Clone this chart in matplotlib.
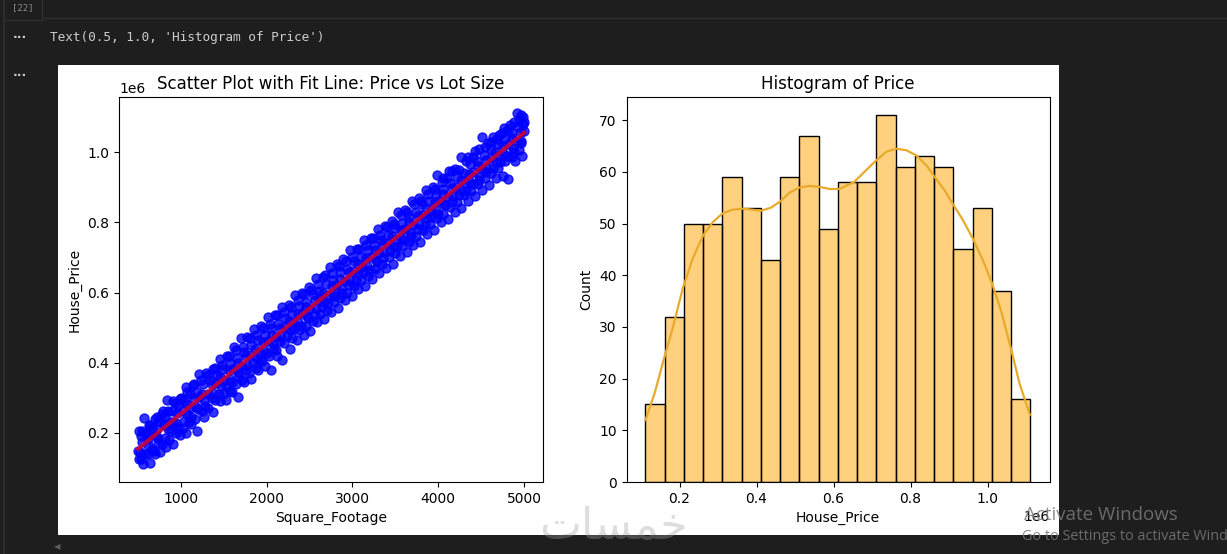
from matplotlib import pyplot as plt
from matplotlib.patches import Rectangle
from matplotlib.lines import Line2D
import numpy as np

W, H = 1227, 554

# scatter points in bands across the cloud
sqft_a = [510,568,640,715,790,837,905,985,1060,1135,1210,1295,1375,1455,1535,1615,1695,1775,1855,1935,2015,2095,2175,2255,2335,2415,2495,2575,2655,2735,2815,2895,2975,3055,3135,3215,3295,3375,3455,3535,3615,3695,3775,3855,3935,3985,4060,4130,4190,4267,4350,4430,4510,4580,4640,4710,4770,4840,4918,4960,4990,5000]
price_a = [.206,.243,.222,.246,.262,.294,.290,.298,.330,.338,.368,.372,.382,.412,.418,.445,.470,.472,.495,.505,.530,.535,.560,.565,.592,.600,.615,.642,.645,.672,.680,.695,.720,.725,.750,.755,.780,.790,.805,.830,.835,.862,.870,.892,.900,.935,.925,.945,.952,.986,.985,1.002,1.043,1.025,1.043,1.050,1.068,1.078,1.112,1.105,1.100,1.085]
sqft_b = [530,590,665,740,815,890,960,1035,1110,1185,1260,1335,1415,1495,1575,1655,1735,1815,1895,1975,2055,2135,2215,2295,2375,2455,2535,2615,2695,2775,2855,2935,3015,3095,3175,3255,3335,3415,3495,3575,3655,3735,3815,3895,3975,4055,4135,4215,4295,4375,4455,4535,4615,4695,4775,4855,4935,4985]
price_b = [.190,.200,.215,.235,.245,.262,.280,.290,.310,.318,.340,.350,.365,.382,.400,.415,.430,.450,.465,.478,.498,.510,.528,.540,.562,.572,.595,.605,.625,.635,.658,.668,.690,.700,.720,.735,.750,.765,.785,.798,.815,.830,.852,.860,.880,.895,.912,.928,.940,.965,.975,.992,1.010,1.022,1.040,1.055,1.075,1.080]
sqft_c = [500,610,710,810,910,1010,1110,1210,1310,1410,1510,1610,1710,1810,1910,2010,2110,2210,2310,2410,2510,2610,2710,2810,2910,3010,3110,3210,3310,3410,3510,3610,3710,3810,3910,4010,4110,4210,4310,4410,4510,4610,4710,4810,4910,5000]
price_c = [.150,.182,.192,.222,.232,.262,.272,.302,.312,.342,.352,.382,.392,.422,.432,.462,.472,.502,.512,.542,.552,.582,.592,.622,.632,.662,.672,.702,.712,.742,.752,.782,.792,.822,.832,.862,.872,.902,.912,.942,.952,.982,.992,1.022,1.032,1.060]
sqft_d = [515,585,660,735,810,885,965,1040,1120,1200,1280,1360,1440,1520,1600,1680,1760,1840,1920,2000,2080,2160,2240,2320,2400,2480,2560,2640,2720,2800,2880,2960,3040,3120,3200,3280,3360,3440,3520,3600,3680,3760,3840,3920,4000,4080,4160,4240,4320,4400,4480,4560,4640,4720,4800,4880,4960]
price_d = [.125,.140,.155,.172,.185,.205,.215,.235,.245,.268,.278,.300,.312,.335,.345,.365,.378,.398,.410,.428,.442,.462,.475,.495,.505,.528,.538,.558,.570,.590,.600,.622,.635,.655,.665,.688,.698,.718,.730,.750,.762,.782,.792,.815,.825,.848,.858,.878,.890,.910,.922,.942,.955,.972,.988,1.000,1.025]
sqft_e = [557,640,700,755,830,905,985,1060,1120,1187,1270,1373,1450,1530,1600,1665,1740,1820,1900,1980,2050,2120,2180,2272,2350,2430,2510,2590,2670,2750,2830,2910,2990,3070,3150,3230,3310,3390,3470,3550,3630,3710,3790,3870,3950,4030,4110,4190,4270,4350,4430,4510,4590,4670,4750,4815,4900,4975]
price_e = [.112,.115,.140,.146,.160,.170,.195,.200,.225,.206,.245,.260,.290,.295,.318,.303,.345,.355,.380,.390,.380,.420,.408,.440,.465,.480,.490,.515,.525,.545,.555,.580,.590,.610,.620,.640,.655,.670,.680,.705,.715,.735,.745,.768,.778,.800,.810,.830,.840,.862,.875,.892,.905,.925,.932,.924,.975,.990]
sqft_f = [550,625,700,775,850,925,1000,1075,1150,1230,1320,1400,1480,1560,1640,1720,1800,1880,1960,2040,2120,2200,2280,2360,2440,2520,2600,2680,2760,2840,2920,3000,3080,3160,3240,3320,3400,3480,3560,3640,3720,3800,3880,3960,4040,4100,4160,4240,4320,4400,4470,4550,4620,4680,4740,4810,4880,4940]
price_f = [.205,.222,.240,.255,.262,.285,.300,.318,.340,.350,.365,.385,.395,.418,.435,.445,.470,.478,.500,.510,.535,.545,.560,.578,.595,.608,.625,.650,.655,.675,.690,.700,.725,.735,.755,.765,.788,.795,.820,.830,.852,.860,.880,.895,.915,.925,.945,.950,.975,.985,1.010,1.015,1.030,1.038,1.055,1.065,1.085,1.095]
sqft_g = [540,630,720,800,875,950,1075,1150,1240,1360,1460,1555,1660,1760,1860,1960,2060,2160,2260,2360,2460,2560,2660,2760,2860,2960,3060,3160,3260,3360,3460,3560,3660,3760,3860,3960,4060,4160,4260,4360,4460,4560,4660,4760,4860,4960]
price_g = [.175,.195,.210,.225,.232,.258,.282,.297,.312,.340,.360,.378,.400,.420,.438,.460,.480,.498,.520,.538,.560,.578,.600,.618,.640,.658,.680,.698,.720,.738,.760,.778,.800,.818,.840,.858,.880,.898,.920,.938,.960,.978,1.000,1.018,1.040,1.058]
sqft_h = [520,620,730,850,940,1070,1170,1270,1370,1470,1570,1670,1770,1870,1970,2070,2170,2270,2370,2470,2570,2670,2770,2870,2970,3070,3170,3270,3370,3470,3570,3670,3770,3870,3970,4070,4170,4270,4370,4470,4570,4670,4770,4870,4970]
price_h = [.145,.165,.185,.210,.228,.255,.275,.295,.315,.335,.355,.375,.393,.415,.435,.453,.475,.493,.515,.533,.555,.573,.595,.613,.635,.653,.675,.693,.715,.733,.755,.773,.795,.813,.835,.853,.875,.893,.915,.933,.955,.973,.995,1.013,1.033]
sqft_i = [535,610,680,775,860,945,1020,1095,1160,1240,1320,1400,1490,1570,1640,1710,1790,1870,1950,2030,2110,2200,2300,2380,2460,2540,2620,2700,2780,2860,2940,3020,3100,3180,3260,3340,3420,3500,3580,3660,3740,3820,3900,3980,4060,4140,4220,4300,4380,4460,4540,4620,4700,4780,4860,4940]
price_i = [.125,.140,.148,.170,.180,.200,.215,.230,.240,.262,.272,.295,.310,.320,.340,.350,.370,.385,.405,.420,.435,.455,.470,.492,.505,.520,.538,.550,.572,.585,.600,.618,.635,.648,.668,.680,.700,.712,.732,.745,.762,.778,.795,.812,.825,.845,.858,.878,.890,.908,.925,.940,.955,.975,.985,1.005]

fit_sqft = [500, 5000]
fit_price = [.155, 1.055]

# histogram
hist_counts = [15,32,50,50,59,53,43,59,67,49,58,58,71,61,63,61,45,53,37,16]
kde_price = [.1117,.135,.161,.183,.2086,.2346,.262,.2865,.3125,.3385,.3645,.412,.438,.46,.486,.512,.538,.564,.59,.6156,.6545,.68,.709,.737,.763,.789,.815,.841,.862,.888,.91,.936,.962,.988,1.012,1.036,1.062,1.083,1.11]
kde_count = [12.0,17.1,24.2,30.0,37.5,43.3,47.8,50.3,52.0,52.7,52.9,52.5,53.1,54.2,56.0,57.0,57.3,57.1,56.7,56.7,58.1,60.0,62.1,63.9,64.5,64.2,63.2,61.3,59.1,56.5,53.8,50.7,47.1,42.9,38.4,32.9,25.5,19.1,13.0]


def px_axes(fig, x0, y0, x1, y1):
	return fig.add_axes([x0 / W, 1 - y1 / H, (x1 - x0) / W, (y1 - y0) / H])


def px_text(fig, x, y, s, **kw):
	kw.setdefault('va', 'center')
	return fig.text(x / W, 1 - y / H, s, **kw)


def px_rect(fig, x0, y0, x1, y1, color, zorder=-5):
	fig.add_artist(Rectangle((x0 / W, 1 - y1 / H), (x1 - x0) / W, (y1 - y0) / H,
		transform=fig.transFigure, facecolor=color, edgecolor='none', zorder=zorder))


def main():
	fig = plt.figure(figsize=(W / 100, H / 100), dpi=100, facecolor='#1e1e1e')

	# notebook chrome
	px_rect(fig, 58, 65, 1059, 535, 'white')
	px_rect(fig, 3, 0, 5, 554, '#2c2c2c')
	fig.add_artist(Line2D([42 / W, 1], [1 - 18 / H] * 2, color='#303030', lw=1))
	fig.add_artist(Line2D([5 / W, 42 / W], [1 - 20 / H] * 2, color='#303030', lw=1))
	fig.add_artist(Line2D([42 / W] * 2, [1 - 18 / H, 1], color='#303030', lw=1))
	px_text(fig, 23, 8, '[22]', family='DejaVu Sans Mono', fontsize=6.5, color='#8a8a8a', ha='center')
	px_text(fig, 20, 35, '...', fontsize=9, color='#c8c8c8', ha='center', fontweight='bold')
	px_text(fig, 20, 72, '...', fontsize=9, color='#c8c8c8', ha='center', fontweight='bold')
	px_text(fig, 50, 37, "Text(0.5, 1.0, 'Histogram of Price')", family='DejaVu Sans Mono',
		fontsize=9.2, color='#cccccc')
	px_text(fig, 57, 547, '\u25c0', fontsize=6, color='#5a5a5a', ha='center')

	# scatter with fit line
	ax = px_axes(fig, 119, 97, 543, 482)
	sqft = np.array(sqft_e + sqft_i + sqft_d + sqft_h + sqft_c + sqft_g + sqft_b + sqft_f + sqft_a)
	price = np.array(price_e + price_i + price_d + price_h + price_c + price_g + price_b + price_f + price_a) * 1e6
	ax.scatter(sqft, price, s=42, color='blue', alpha=0.8, linewidths=1)
	ax.plot(fit_sqft, np.array(fit_price) * 1e6, color='red', lw=3, alpha=0.7)
	ax.set_xlim(276.5, 5222)
	ax.set_ylim(0.0604e6, 1.157e6)
	ax.set_xticks([1000, 2000, 3000, 4000, 5000])
	ax.set_yticks(np.array([.2, .4, .6, .8, 1.0]) * 1e6)
	ax.set_title('Scatter Plot with Fit Line: Price vs Lot Size', fontsize=12)
	ax.set_xlabel('Square_Footage')
	ax.set_ylabel('House_Price')

	# histogram with kde
	bx = px_axes(fig, 626.5, 97, 1049.5, 482)
	edges = np.linspace(0.1115, 1.1115, len(hist_counts) + 1) * 1e6
	bx.bar(edges[:-1], hist_counts, width=np.diff(edges), align='edge',
		facecolor=(1, 0.647, 0, 0.5), edgecolor='black', linewidth=1)
	bx.plot(np.array(kde_price) * 1e6, kde_count, color='#e8aa2a', lw=1.6)
	bx.set_xlim(0.0623e6, 1.161e6)
	bx.set_ylim(0, 74.5)
	bx.set_xticks(np.array([.2, .4, .6, .8, 1.0]) * 1e6)
	bx.set_yticks(range(0, 71, 10))
	bx.set_title('Histogram of Price', fontsize=12)
	bx.set_xlabel('House_Price')
	bx.set_ylabel('Count')

	# overlays
	px_text(fig, 1101, 515, 'Activate Windows', family='Open Sans', fontsize=13.5, color='#787878',
		ha='center', zorder=10, alpha=0.85)
	px_text(fig, 1022, 536, 'Go to Settings to activate Windows.', family='Open Sans', fontsize=10.4,
		color='#787878', ha='left', zorder=10, alpha=0.85)
	px_text(fig, 613, 526, '\ufe95\ufe8e\ufeb4\ufee4\ufea7', family='DejaVu Sans', fontsize=32,
		color='#a0a0a0', ha='center', zorder=10, alpha=0.35)

	fig.savefig('out.png', dpi=100, facecolor=fig.get_facecolor())


if __name__ == '__main__':
	main()
